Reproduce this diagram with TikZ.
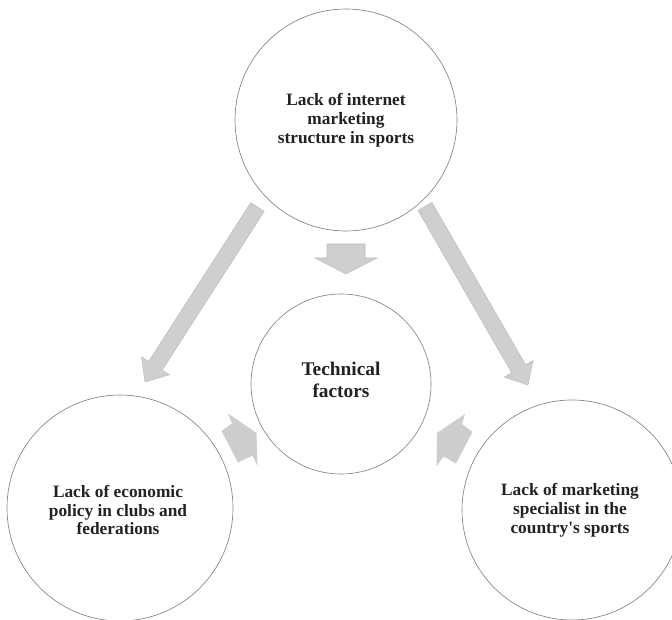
\documentclass[tikz,border=0pt]{standalone}
\usepackage{fontspec}
\setmainfont{Liberation Serif}
\usetikzlibrary{calc}
\definecolor{arrowfill}{HTML}{D0CFD0}
\definecolor{arrowline}{HTML}{BDBDBD}
\definecolor{smallfill}{HTML}{CDCDCD}
\definecolor{circline}{HTML}{858585}
\definecolor{txt}{HTML}{222222}
\tikzset{
  bubble/.style={circle, draw=circline, line width=0.5pt, fill=white, inner sep=0pt, minimum size=#1},
  btext/.style={font=\bfseries\fontsize{13}{14.2}\selectfont, text=txt, align=center},
  ctext/.style={font=\bfseries\fontsize{14.5}{17}\selectfont, text=txt, align=center},
  blockarr/.style={fill=arrowfill, draw=arrowline, line width=0.4pt, line join=miter},
  chevron/.style={fill=smallfill, draw=none}
}
% #1 tail, #2 tip, #3 half shaft width, #4 half head width, #5 head length (pt)
\newcommand\barrow[5]{%
  \coordinate (hb) at ($(#2)!#5!(#1)$);
  \filldraw[blockarr] ($(#1)!#3!90:(#2)$) -- ($(hb)!#3!-90:(#1)$) -- ($(hb)!#4!-90:(#1)$)
    -- (#2) -- ($(hb)!#4!90:(#1)$) -- ($(hb)!#3!90:(#1)$) -- ($(#1)!#3!-90:(#2)$) -- cycle;
}
\begin{document}
\begin{tikzpicture}[x=0.75pt,y=-0.75pt]
\useasboundingbox (0,0) rectangle (672,620);
\clip (0,0) rectangle (672,620);
% arrow end points
\coordinate (la1) at (257.5,207);
\coordinate (la2) at (145,382);
\coordinate (ra1) at (425,206.5);
\coordinate (ra2) at (528,385);
\coordinate (da1) at (346,244);
\coordinate (da2) at (346,274);
\barrow{la1}{la2}{6pt}{12.4pt}{14.5pt}
\barrow{ra1}{ra2}{6pt}{12.4pt}{14pt}
\barrow{da1}{da2}{14.25pt}{23.25pt}{12pt}
% small converging shapes
\fill[chevron] (228,413.5) -- (232,423.5) -- (221.5,431) -- (238,462.5) -- (252.5,455.5)
  -- (257.5,466) -- (256.5,433) -- cycle;
\fill[chevron] (465,414) -- (462,424) -- (472.5,432) -- (456,463.5) -- (443.5,456.5)
  -- (436.5,466.5) -- (437,433) -- cycle;
% circles
\node[bubble=166.5pt] (top) at (346,120) {};
\node[bubble=135pt] (ctr) at (341,384) {};
\node[bubble=169.5pt] (lft) at (120,508) {};
\node[bubble=165pt] (rgt) at (572,510) {};
% texts
\node[btext] (toptext) at (346,120) {Lack of internet\\marketing\\structure in sports};
\node[ctext] (ctrtext) at (341,380) {Technical\\factors};
\node[btext] (lfttext) at (118,510) {Lack of economic\\policy in clubs and\\federations};
\node[btext] (rgttext) at (570,510) {Lack of marketing\\specialist in the\\country\textquotesingle s sports};
\end{tikzpicture}
\end{document}
